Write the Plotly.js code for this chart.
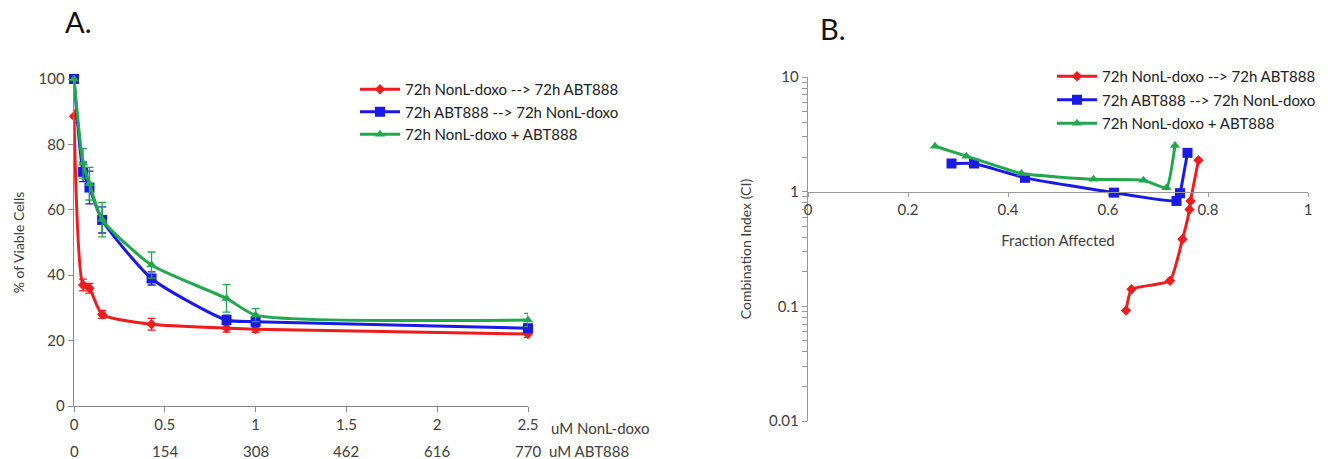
<!DOCTYPE html>
<html><head><meta charset="utf-8">
<script src="https://cdn.plot.ly/plotly-3.0.1.min.js"></script>
<style>html,body{margin:0;padding:0;background:#fff}#plot{width:1335px;height:459px}</style>
</head><body><div id="plot"></div>
<script>
// Panel A: viability vs concentration
const seriesNames = ['72h NonL-doxo --> 72h ABT888', '72h ABT888 --> 72h NonL-doxo', '72h NonL-doxo + ABT888'];
const concDoxo = [0, 0.05, 0.085, 0.155, 0.427, 0.84, 1.0, 2.5];
const viableRed = [88.6, 37, 36, 28, 25, 23.8, 23.5, 22];
const errRed = [1.9, 1.8, 1.5, 1.2, 1.8, 1.2, 1.0, 1.0];
const viableBlue = [100, 71.6, 66.8, 56.9, 39, 26.3, 25.8, 23.8];
const errBlue = [0.5, 3, 5, 4, 2, 1.5, 1.5, 1.2];
const viableGreen = [100, 74.2, 68, 57, 43.1, 32.9, 27.8, 26.3];
const errGreen = [0.5, 4.5, 5, 5.3, 4, 4.2, 2, 2];
const tickDoxo = [0, 0.5, 1, 1.5, 2, 2.5];
const tickAbt = ['0', '154', '308', '462', '616', '770'];

// Panel B: combination index vs fraction affected
const faRed = [0.636, 0.647, 0.724, 0.749, 0.763, 0.765, 0.781];
const ciRed = [0.092, 0.141, 0.167, 0.385, 0.70, 0.83, 1.88];
const faBlue = [0.287, 0.332, 0.434, 0.612, 0.737, 0.744, 0.759];
const ciBlue = [1.76, 1.76, 1.32, 0.98, 0.83, 0.97, 2.18];
const faGreen = [0.254, 0.317, 0.427, 0.571, 0.671, 0.717, 0.734];
const ciGreen = [2.49, 2.04, 1.44, 1.28, 1.26, 1.08, 2.53];
const ciTickVals = [0.01, 0.02, 0.03, 0.04, 0.05, 0.06, 0.07, 0.08, 0.09,
  0.1, 0.2, 0.3, 0.4, 0.5, 0.6, 0.7, 0.8, 0.9, 1, 2, 3, 4, 5, 6, 7, 8, 9, 10];
const ciTickLabels = ciTickVals.map(v => ([0.01, 0.1, 1, 10].includes(v) ? String(v) : ''));

const colors = ['#ee1c1c', '#1a1ae6', '#22a84c'];
const symbols = ['diamond', 'square', 'triangle-up'];
const msizes = [8, 10, 9];
const FONT = 'Lato, "Open Sans", sans-serif';
const TXT = '#404040';

const A = [[viableRed, errRed], [viableBlue, errBlue], [viableGreen, errGreen]];
const B = [[faRed, ciRed], [faBlue, ciBlue], [faGreen, ciGreen]];
const traces = [];
A.forEach((s, i) => traces.push({
  x: concDoxo, y: s[0], type: 'scatter', mode: 'lines+markers', name: seriesNames[i],
  xaxis: 'x', yaxis: 'y', legend: 'legend', legendgroup: 'a' + i, cliponaxis: false,
  line: {color: colors[i], width: 3, shape: 'spline', smoothing: 0.6},
  marker: {color: colors[i], symbol: symbols[i], size: msizes[i]},
  error_y: {type: 'data', array: s[1], visible: true, color: colors[i], thickness: 1.3, width: 4}
}));
B.forEach((s, i) => traces.push({
  x: s[0], y: s[1], type: 'scatter', mode: 'lines+markers', name: seriesNames[i],
  xaxis: 'x2', yaxis: 'y2', legend: 'legend2', legendgroup: 'b' + i, cliponaxis: false,
  line: {color: colors[i], width: 3, shape: 'spline', smoothing: 0.4},
  marker: {color: colors[i], symbol: symbols[i], size: msizes[i]}
}));

const W = 1335, H = 459;
const px = v => v / W, py = v => (H - v) / H;
const annotations = [
  {text: 'A.', x: px(63), y: py(22), xref: 'paper', yref: 'paper', xanchor: 'left', yanchor: 'middle', showarrow: false, font: {size: 29, color: '#111', family: FONT}},
  {text: 'B.', x: px(818), y: py(28), xref: 'paper', yref: 'paper', xanchor: 'left', yanchor: 'middle', showarrow: false, font: {size: 29, color: '#111', family: FONT}},
  {text: 'uM NonL-doxo', x: px(549), y: py(428), xref: 'paper', yref: 'paper', xanchor: 'left', yanchor: 'middle', showarrow: false, font: {size: 15, color: TXT, family: FONT}},
  {text: 'uM ABT888', x: px(547), y: py(451), xref: 'paper', yref: 'paper', xanchor: 'left', yanchor: 'middle', showarrow: false, font: {size: 15, color: TXT, family: FONT}}
];
tickDoxo.forEach((v, i) => annotations.push({
  text: tickAbt[i], x: v, xref: 'x', y: py(451), yref: 'paper', xanchor: 'center', yanchor: 'middle',
  showarrow: false, font: {size: 15, color: TXT, family: FONT}
}));

const axisBase = {showgrid: false, zeroline: false, showline: true, linecolor: '#8a8a8a', linewidth: 1.3,
  ticks: 'outside', tickcolor: '#8a8a8a', ticklen: 5, tickfont: {size: 15, color: TXT, family: FONT}};
const domB = [py(421), py(77)];

const layout = {
  width: W, height: H, margin: {l: 0, r: 0, t: 0, b: 0},
  paper_bgcolor: '#fff', plot_bgcolor: '#fff', font: {family: FONT, color: TXT},
  showlegend: true,
  xaxis: Object.assign({}, axisBase, {domain: [px(74), px(528)], range: [0, 2.5], tickvals: tickDoxo,
    ticktext: ['0', '0.5', '1', '1.5', '2', '2.5'], anchor: 'y'}),
  yaxis: Object.assign({}, axisBase, {domain: [py(406), py(79)], range: [0, 100], dtick: 20, anchor: 'x',
    title: {text: '% of Viable Cells', font: {size: 14, color: TXT, family: FONT}, standoff: 10}}),
  xaxis2: Object.assign({}, axisBase, {domain: [px(808), px(1308)], range: [0, 1], dtick: 0.2, anchor: 'free',
    position: (domB[0] + (domB[1] - domB[0]) * 2 / 3), ticklen: 4, linecolor: '#999', tickcolor: '#999',
    title: {text: 'Fraction Affected', font: {size: 15, color: TXT, family: FONT}, standoff: 18}}),
  yaxis2: Object.assign({}, axisBase, {domain: domB, type: 'log', range: [-2, 1], anchor: 'x2',
    tickmode: 'array', tickvals: ciTickVals, ticktext: ciTickLabels,
    linecolor: '#999', tickcolor: '#999', ticklen: 5,
    title: {text: 'Combination Index (CI)', font: {size: 14, color: TXT, family: FONT}, standoff: 14}}),
  legend: {x: px(355), y: py(73), xanchor: 'left', yanchor: 'top', bgcolor: 'rgba(0,0,0,0)',
    font: {size: 15, color: '#222', family: FONT}, tracegroupgap: 0, itemwidth: 40},
  legend2: {x: px(1052), y: py(60), xanchor: 'left', yanchor: 'top', bgcolor: 'rgba(0,0,0,0)',
    font: {size: 15, color: '#222', family: FONT}, tracegroupgap: 1, itemwidth: 40},
  annotations: annotations
};
Plotly.newPlot('plot', traces, layout, {displayModeBar: false, staticPlot: true});
</script></body></html>
